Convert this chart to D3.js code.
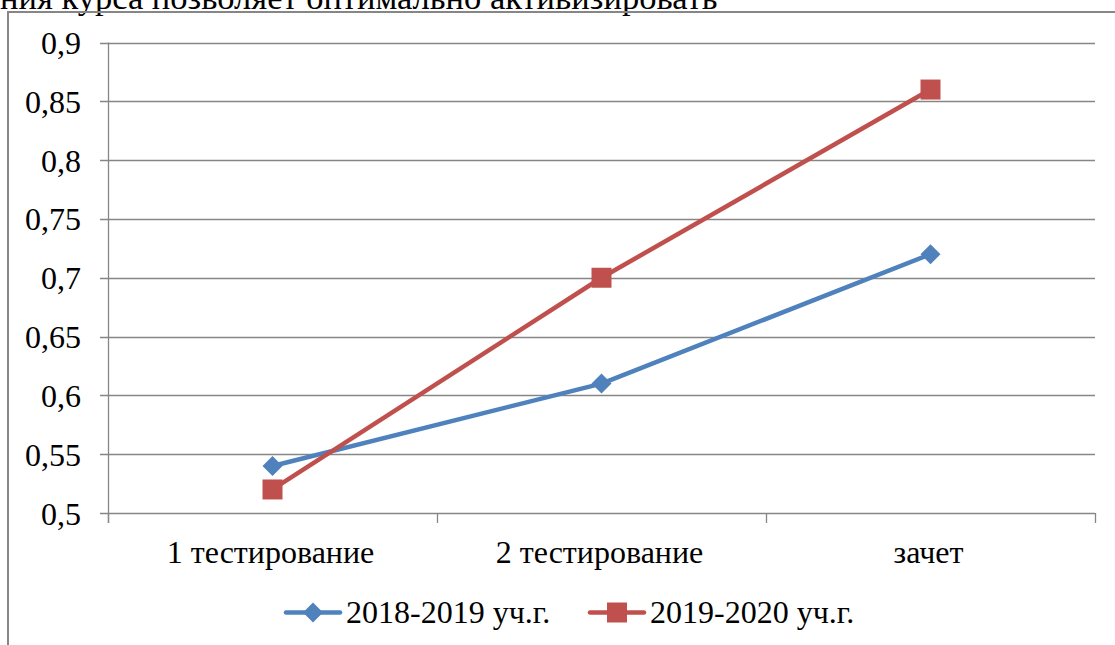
<!DOCTYPE html>
<html>
<head>
<meta charset="utf-8">
<script src="https://cdn.jsdelivr.net/npm/d3@7"></script>
<style>
  html, body { margin: 0; padding: 0; background: #fff; overflow: hidden; }
  svg text { font-family: 'Liberation Serif', 'Times New Roman', serif; }
</style>
</head>
<body>
<div id="chart"></div>
<script>
// Chart data
const categories = ['1 тестирование', '2 тестирование', 'зачет'];
const seriesNames = ['2018-2019 уч.г.', '2019-2020 уч.г.'];
const values2018 = [0.54, 0.61, 0.72];
const values2020 = [0.52, 0.70, 0.86];
const yTicks = [0.5, 0.55, 0.6, 0.65, 0.7, 0.75, 0.8, 0.85, 0.9];
const yTickLabels = ['0,5', '0,55', '0,6', '0,65', '0,7', '0,75', '0,8', '0,85', '0,9'];
const headerText = 'ния курса позволяет оптимально активизировать';

const width = 1115, height = 645;
const colors = ['#4F81BD', '#C0504D'];
const serif = "'Liberation Serif', 'Times New Roman', serif";
const fontSize = '32px';

const svg = d3.select('#chart')
    .append('svg')
    .attr('width', width)
    .attr('height', height);

// Cut-off text line above the chart (continues from the page above)
svg.append('text')
    .attr('x', 0)
    .attr('y', 9)
    .attr('font-family', serif)
    .style('font-size', '34.5px')
    .style('fill', '#000')
    .text(headerText);

// Outer chart frame
svg.append('path')
    .attr('d', `M8,${height + 2} L8,12 L${width + 2},12`)
    .attr('fill', 'none')
    .attr('stroke', '#868686')
    .attr('stroke-width', 2);

// Scales
const x = d3.scaleBand()
    .domain(categories)
    .range([108, 1095])
    .padding(0);

const y = d3.scaleLinear()
    .domain([0.5, 0.9])
    .range([513, 42.5]);

// Gridlines
svg.append('g')
    .selectAll('line')
    .data(yTicks)
    .join('line')
    .attr('x1', 100)
    .attr('x2', 1095)
    .attr('y1', d => Math.round(y(d)) + 0.5)
    .attr('y2', d => Math.round(y(d)) + 0.5)
    .attr('stroke', '#868686')
    .attr('stroke-width', 1.3);

// Y axis line
svg.append('line')
    .attr('x1', 108.5).attr('x2', 108.5)
    .attr('y1', y(0.9)).attr('y2', 523)
    .attr('stroke', '#868686')
    .attr('stroke-width', 1.3);

// X axis category tick marks
const xTickPos = categories.map(c => x(c)).concat([x.range()[1]]);
svg.append('g')
    .selectAll('line')
    .data(xTickPos)
    .join('line')
    .attr('x1', d => Math.round(d) + 0.5)
    .attr('x2', d => Math.round(d) + 0.5)
    .attr('y1', y(0.5))
    .attr('y2', 523)
    .attr('stroke', '#868686')
    .attr('stroke-width', 1.3);

// Y tick labels
svg.append('g')
    .selectAll('text')
    .data(yTicks)
    .join('text')
    .attr('x', 81)
    .attr('y', d => y(d) + 11.5)
    .attr('text-anchor', 'end')
    .attr('font-family', serif)
    .style('font-size', fontSize)
    .style('fill', '#000')
    .text((d, i) => yTickLabels[i]);

// X category labels
svg.append('g')
    .selectAll('text')
    .data(categories)
    .join('text')
    .attr('x', d => x(d) + x.bandwidth() / 2 - 2)
    .attr('y', 563)
    .attr('text-anchor', 'middle')
    .attr('font-family', serif)
    .style('font-size', fontSize)
    .style('fill', '#000')
    .text(d => d);

const cx = d => x(d) + x.bandwidth() / 2;
const line = d3.line()
    .x((d, i) => cx(categories[i]))
    .y(d => y(d));

const diamond = d3.symbol().type(d3.symbolSquare).size(200);
const square = d3.symbol().type(d3.symbolSquare).size(400);

// Series 2018-2019
svg.append('path')
    .datum(values2018)
    .attr('d', line)
    .attr('fill', 'none')
    .attr('stroke', colors[0])
    .attr('stroke-width', 4.5)
    .attr('stroke-linejoin', 'round');

// Series 2019-2020
svg.append('path')
    .datum(values2020)
    .attr('d', line)
    .attr('fill', 'none')
    .attr('stroke', colors[1])
    .attr('stroke-width', 4.5)
    .attr('stroke-linejoin', 'round');

svg.append('g')
    .selectAll('path')
    .data(values2018)
    .join('path')
    .attr('d', diamond)
    .attr('transform', (d, i) => `translate(${cx(categories[i])},${y(d)}) rotate(45)`)
    .attr('fill', colors[0]);

svg.append('g')
    .selectAll('path')
    .data(values2020)
    .join('path')
    .attr('d', square)
    .attr('transform', (d, i) => `translate(${cx(categories[i])},${y(d)})`)
    .attr('fill', colors[1]);

// Legend
const legendY = 612.5;
const legendX = [286, 590];
const legend = svg.append('g');
seriesNames.forEach((name, i) => {
    const g = legend.append('g').attr('transform', `translate(${legendX[i]},${legendY})`);
    g.append('line')
        .attr('x1', 0).attr('x2', 54)
        .attr('y1', 0).attr('y2', 0)
        .attr('stroke', colors[i])
        .attr('stroke-width', 4.5)
        .attr('stroke-linecap', 'round');
    g.append('path')
        .attr('d', i === 0 ? diamond : square)
        .attr('transform', `translate(27,0)` + (i === 0 ? ' rotate(45)' : ''))
        .attr('fill', colors[i]);
    g.append('text')
        .attr('x', 60)
        .attr('y', 10.5)
        .attr('font-family', serif)
        .style('font-size', fontSize)
        .style('fill', '#000')
        .text(name);
});
</script>
</body>
</html>
